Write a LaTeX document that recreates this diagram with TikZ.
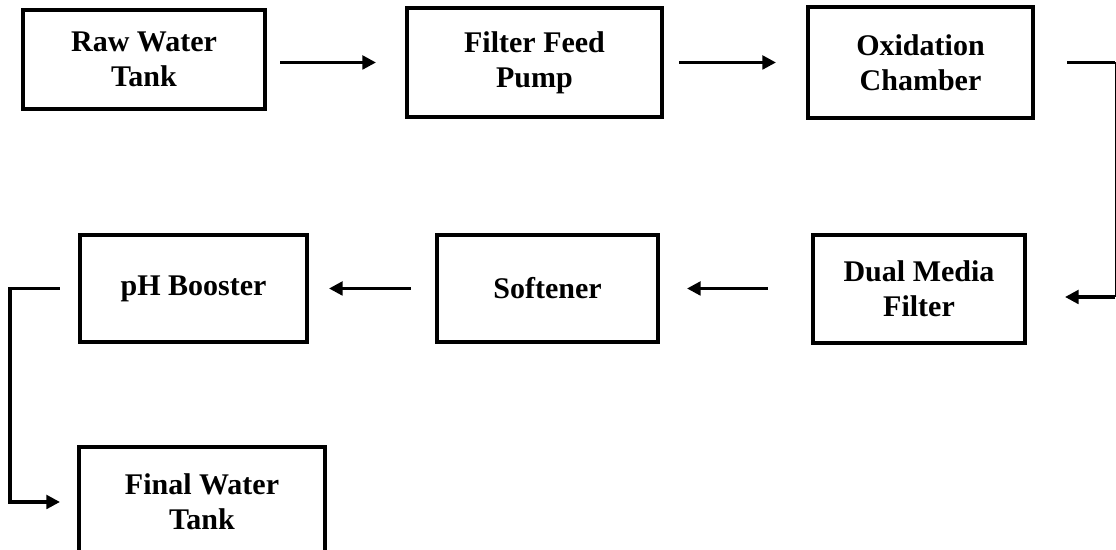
\documentclass[tikz,border=0pt]{standalone}
\usepackage{fontspec}
\setmainfont{Liberation Serif}
\usepackage{tikz}
\usetikzlibrary{arrows.meta}

\begin{document}
\begin{tikzpicture}[x=0.4pt,y=-0.4pt,
        unit/.style={draw,line width=1.6pt,inner sep=0pt,align=center,
            font=\fontsize{12}{14}\selectfont\bfseries},
        flow/.style={line width=1.3pt,-{Triangle[length=5.4pt,width=5.4pt]}}]
            \clip (0,0) rectangle (1116,550);

            \node[unit,minimum width=96.8pt,minimum height=39.6pt] (raw) at (144,59.5) {Raw Water\\Tank};
            \node[unit,minimum width=102pt,minimum height=43.6pt] (pump) at (534.5,62.5) {Filter Feed\\Pump};
            \node[unit,minimum width=90pt,minimum height=44.4pt] (oxid) at (920.5,62.5) {Oxidation\\Chamber};
            \node[unit,minimum width=84.8pt,minimum height=43.2pt] (dual) at (919,289) {Dual Media\\Filter};
            \node[unit,minimum width=88.4pt,minimum height=42.8pt] (soft) at (547.5,288.5) {Softener};
            \node[unit,minimum width=90.8pt,minimum height=42.8pt] (ph) at (193.5,288.5) {pH Booster};
            \node[unit,minimum width=98.4pt,minimum height=44pt] (final) at (202,502) {Final Water\\Tank};

            \coordinate (rtop) at (1115,61);
            \coordinate (rbot) at (1115,297);

            \draw[flow,shorten <=5.2pt,shorten >=11.6pt] (raw.east |- pump.west) -- (pump.west);
            \draw[flow,shorten <=6pt,shorten >=12pt] (pump.east) -- (oxid.west);

            \draw[line width=1.3pt] ([xshift=12.8pt]oxid.east) -- (oxid.east -| rtop);
            \draw[line width=0.4pt] (oxid.east -| rtop) -- (rbot);
            \draw[flow,shorten >=15.2pt] (rbot) -- (rbot -| dual.east);

            \draw[flow,shorten <=17.2pt,shorten >=10.8pt] (soft.east -| dual.west) -- (soft.east);
            \draw[flow,shorten <=9.6pt,shorten >=8pt] (soft.west) -- (ph.east);

            \draw[flow,shorten <=7.2pt,shorten >=6.8pt] (ph.west) -- ++(-27.2pt,0) |- (final.west);
        \end{tikzpicture}
\end{document}
